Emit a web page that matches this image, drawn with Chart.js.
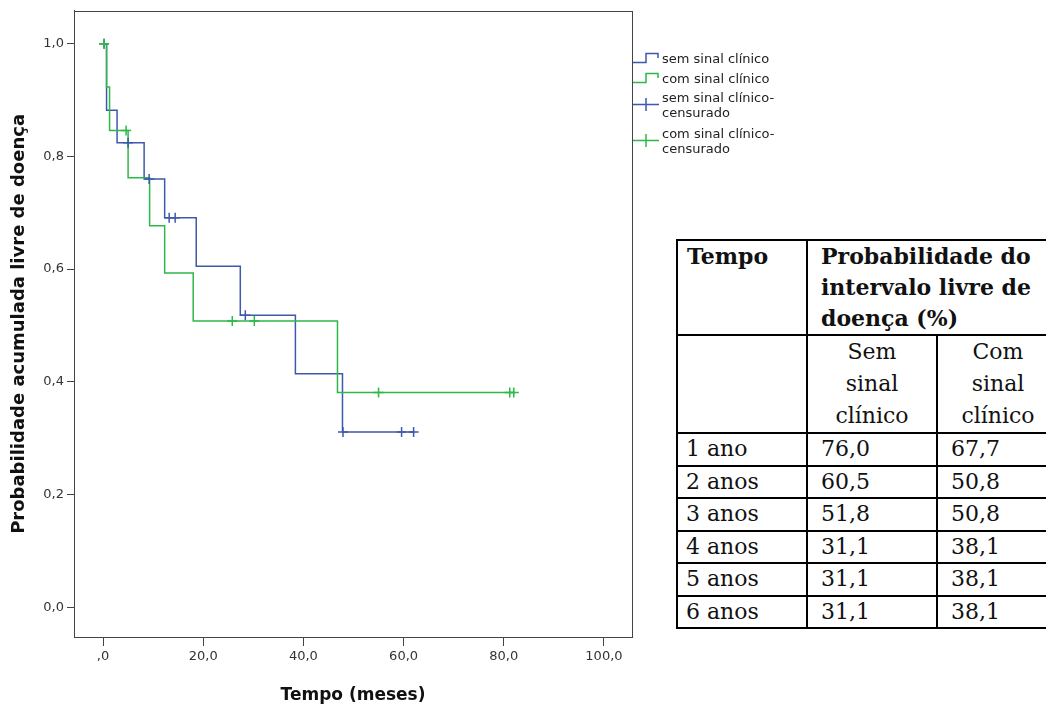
<!DOCTYPE html>
<html>
<head>
<meta charset="utf-8">
<script src="https://cdn.jsdelivr.net/npm/chart.js@4.4.1/dist/chart.umd.min.js"></script>
<style>
  html, body { margin: 0; padding: 0; background: #fff; width: 1046px; height: 706px; overflow: hidden; }
  #wrap { position: absolute; left: 0; top: 0; width: 660px; height: 706px; }
  .leg { position: absolute; left: 632px; font: 13px "DejaVu Sans", sans-serif; color: #222; line-height: 15px; display: flex; align-items: flex-start; }
  .leg svg { flex: none; }
  .leg span { margin-left: 2px; }
  #tbl { position: absolute; left: 676px; top: 239px; border-collapse: collapse; font: 22px "DejaVu Serif", serif; color: #111; table-layout: fixed; width: 382px; }
  #tbl td { border: 2px solid #000; padding: 0 4px 0 13px; vertical-align: top; line-height: 30.5px; height: 30px; white-space: nowrap; }
  #tbl .hd { font-weight: bold; line-height: 31px; padding-left: 9px; white-space: normal; }
  #tbl .sub { text-align: center; padding: 0; line-height: 32px; }
  #tbl .c1 { padding-left: 8px; }
</style>
</head>
<body>
<div id="wrap"><canvas id="km"></canvas></div>
<div id="legend"></div>
<table id="tbl"></table>
<script>
// tempo (meses) e probabilidade acumulada
const semTimes = [0, 0.7, 2.8, 8.2, 12.3, 18.6, 27.4, 38.4, 47.8, 62.0];
const semSurv  = [1.0, 0.882, 0.824, 0.760, 0.691, 0.605, 0.518, 0.414, 0.311, 0.311];
const comTimes = [0, 0.7, 1.3, 5.0, 9.3, 12.3, 18.0, 46.8, 82.2];
const comSurv  = [1.0, 0.923, 0.846, 0.762, 0.677, 0.593, 0.508, 0.381, 0.381];

// censurados
const semCensT = [0.2, 5.0, 9.2, 13.2, 14.4, 28.4, 47.9, 59.6, 62.0];
const semCensS = [1.0, 0.824, 0.760, 0.691, 0.691, 0.518, 0.311, 0.311, 0.311];
const comCensT = [0.2, 4.6, 25.8, 30.2, 55.0, 81.2, 82.0];
const comCensS = [1.0, 0.846, 0.508, 0.508, 0.381, 0.381, 0.381];

const xTicks = [0, 20, 40, 60, 80, 100];
const yTicks = [0, 0.2, 0.4, 0.6, 0.8, 1.0];

const legendLabels = ['sem sinal clínico', 'com sinal clínico', 'sem sinal clínico-\ncensurado', 'com sinal clínico-\ncensurado'];

// tabela
const tableYears = ['1 ano', '2 anos', '3 anos', '4 anos', '5 anos', '6 anos'];
const tableSem = ['76,0', '60,5', '51,8', '31,1', '31,1', '31,1'];
const tableCom = ['67,7', '50,8', '50,8', '38,1', '38,1', '38,1'];

const BLUE = '#3e58ac';
const GREEN = '#2eb848';

const toPts = (xs, ys) => xs.map((x, i) => ({x: x, y: ys[i]}));

const frame = {
  id: 'frame',
  afterDatasetsDraw(chart) {
    const a = chart.chartArea, ctx = chart.ctx;
    ctx.save();
    ctx.strokeStyle = '#444';
    ctx.lineWidth = 1;
    ctx.strokeRect(Math.round(a.left) + 0.5, Math.round(a.top) + 0.5, Math.round(a.right - a.left), Math.round(a.bottom - a.top));
    ctx.restore();
  }
};

new Chart(document.getElementById('km'), {
  type: 'line',
  data: {
    datasets: [
      { label: legendLabels[0], data: toPts(semTimes, semSurv), stepped: true, borderColor: BLUE, borderWidth: 1.5, pointRadius: 0, fill: false, order: 3 },
      { label: legendLabels[1], data: toPts(comTimes, comSurv), stepped: true, borderColor: GREEN, borderWidth: 1.5, pointRadius: 0, fill: false, order: 2 },
      { label: legendLabels[2], data: toPts(semCensT, semCensS), showLine: false, pointStyle: 'cross', pointRadius: 5, borderColor: BLUE, borderWidth: 1.5, order: 1 },
      { label: legendLabels[3], data: toPts(comCensT, comCensS), showLine: false, pointStyle: 'cross', pointRadius: 5, borderColor: GREEN, borderWidth: 1.5, order: 0 }
    ]
  },
  options: {
    responsive: true,
    maintainAspectRatio: false,
    animation: false,
    layout: { padding: { top: 8, right: 28, left: 0, bottom: 0 } },
    plugins: { legend: { display: false }, tooltip: { enabled: false } },
    scales: {
      x: {
        type: 'linear',
        min: -5.8,
        max: 105.6,
        afterBuildTicks: s => { s.ticks = xTicks.map(v => ({value: v})); },
        afterFit: s => { s.height = 69; },
        grid: { drawOnChartArea: false, drawTicks: true, tickLength: 9, color: '#444' },
        border: { display: true, color: '#444' },
        ticks: {
          color: '#333',
          font: { family: 'DejaVu Sans', size: 13 },
          padding: 3,
          maxRotation: 0,
          callback: v => v === 0 ? ',0' : v.toFixed(1).replace('.', ',')
        },
        title: { display: true, text: 'Tempo (meses)', color: '#111', font: { family: 'DejaVu Sans', size: 17, weight: 'bold' }, padding: { top: 4, bottom: 0 } }
      },
      y: {
        type: 'linear',
        min: -0.053,
        max: 1.0583,
        afterBuildTicks: s => { s.ticks = yTicks.map(v => ({value: v})); },
        afterFit: s => { s.width = 74; },
        grid: { drawOnChartArea: false, drawTicks: true, tickLength: 7, color: '#444' },
        border: { display: true, color: '#444' },
        ticks: {
          color: '#333',
          font: { family: 'DejaVu Sans', size: 13 },
          padding: 3,
          callback: v => v.toFixed(1).replace('.', ',')
        },
        title: { display: true, text: 'Probabilidade acumulada livre de doença', color: '#111', font: { family: 'DejaVu Sans', size: 18, weight: 'bold' }, padding: { top: 9, bottom: 0 } }
      }
    }
  },
  plugins: [frame]
});

// legenda estilo SPSS
const legTops = [51, 71, 90, 126];
const legIcons = [
  `<svg width="28" height="15"><path d="M1 11.5 H14 V2.5 H26 V7" fill="none" stroke="${BLUE}" stroke-width="1.5"/></svg>`,
  `<svg width="28" height="15"><path d="M1 11.5 H14 V2.5 H26 V7" fill="none" stroke="${GREEN}" stroke-width="1.5"/></svg>`,
  `<svg width="28" height="30"><path d="M1 14.5 H27 M14 8 V21" fill="none" stroke="${BLUE}" stroke-width="1.5"/></svg>`,
  `<svg width="28" height="30"><path d="M1 14.5 H27 M14 8 V21" fill="none" stroke="${GREEN}" stroke-width="1.5"/></svg>`
];
const leg = document.getElementById('legend');
legendLabels.forEach((t, i) => {
  const d = document.createElement('div');
  d.className = 'leg';
  d.style.top = legTops[i] + 'px';
  d.innerHTML = legIcons[i] + '<span>' + t.replace('\n', '<br>') + '</span>';
  leg.appendChild(d);
});

// tabela de probabilidades
const tbl = document.getElementById('tbl');
let html = '<colgroup><col style="width:130px"><col style="width:130px"><col style="width:122px"></colgroup>';
html += '<tr><td class="hd" style="height:93px">Tempo</td><td class="hd" colspan="2" style="padding-left:13px">Probabilidade do intervalo livre de doença (%)</td></tr>';
html += '<tr><td style="height:96px"></td><td class="sub">Sem<br>sinal<br>clínico</td><td class="sub">Com<br>sinal<br>clínico</td></tr>';
tableYears.forEach((y, i) => {
  html += '<tr><td class="c1">' + y + '</td><td>' + tableSem[i] + '</td><td>' + tableCom[i] + '</td></tr>';
});
tbl.innerHTML = html;
</script>
</body>
</html>
